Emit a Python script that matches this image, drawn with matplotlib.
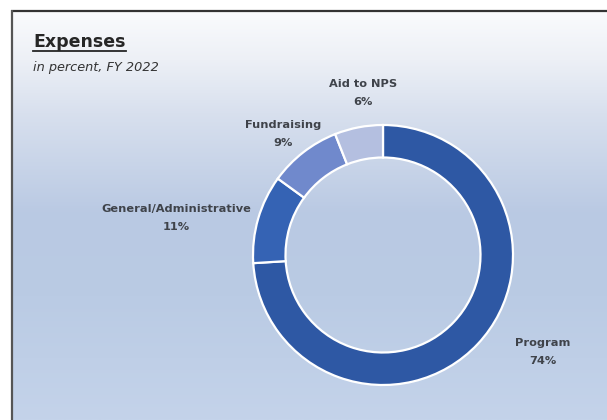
import numpy as np
import matplotlib as mpl
mpl.use('Agg')
import matplotlib.pyplot as plt
from matplotlib.colors import LinearSegmentedColormap
from matplotlib.lines import Line2D

# data
categories = ['Program', 'General/Administrative', 'Fundraising', 'Aid to NPS']
shares = [74, 11, 9, 6]
title = 'Expenses'
subtitle = 'in percent, FY 2022'

# layout for the labels (distance from centre in radii, turn from wedge middle in deg)
label_dist = [1.44, 1.615, 1.21, 1.255]
label_turn = [12, 6, 1.8, -3.8]

colors = ['#2e58a4', '#3563b4', '#7089cc', '#b4bfe0']
textcol = '#3f434a'

W, H = 607, 420
fig = plt.figure(figsize=(W / 100, H / 100), dpi=100)

# gradient background panel
bg = fig.add_axes([11 / W, 0, 1 - 11 / W, (H - 10) / H])
bg.set_axis_off()
grad = LinearSegmentedColormap.from_list(
    'bg', [(0, '#fafbfd'), (0.12, '#edf0f6'), (0.25, '#d8e0ee'),
           (0.5, '#b9c9e3'), (0.7, '#bacbe4'), (1, '#c4d3ea')])
bg.imshow(np.linspace(0, 1, 256).reshape(-1, 1), aspect='auto', cmap=grad,
          extent=[0, 1, 0, 1])
bg.set_xlim(0, 1)
bg.set_ylim(0, 1)

# frame line (top and left only, the rest is off the picture)
fig.add_artist(Line2D([11 / W, 1], [(H - 10.5) / H, (H - 10.5) / H],
                      color='#333333', lw=1.6, solid_capstyle='butt'))
fig.add_artist(Line2D([11.5 / W, 11.5 / W], [0, (H - 10) / H],
                      color='#555555', lw=1.6, solid_capstyle='butt'))

# donut
cx, cy, R = 383, H - 255, 130
ax = fig.add_axes([(cx - R) / W, (cy - R) / H, 2 * R / W, 2 * R / H])
wedges, _ = ax.pie(shares, colors=colors, startangle=90, counterclock=False,
                   radius=1, wedgeprops=dict(width=0.25, edgecolor='white',
                                              linewidth=1.6))
ax.set_xlim(-1, 1)
ax.set_ylim(-1, 1)
ax.set_aspect('equal')
ax.set_axis_off()

for w, name, val, d, turn in zip(wedges, categories, shares, label_dist, label_turn):
    mid = np.deg2rad((w.theta1 + w.theta2) / 2 + turn)
    ax.text(d * np.cos(mid), d * np.sin(mid), f'{name}\n{val}%',
            ha='center', va='center', fontsize=8.2, fontweight='bold',
            color=textcol, linespacing=1.95, clip_on=False)

# title with underline
t = fig.text(33 / W, (H - 47) / H, title, fontsize=12.5, fontweight='bold',
             color='#262626', ha='left', va='baseline')
fig.canvas.draw()
bb = t.get_window_extent(fig.canvas.get_renderer())
uy = (H - 51) / H
fig.add_artist(Line2D([bb.x0 / W, bb.x1 / W], [uy, uy], color='#262626', lw=1.3))

fig.text(33 / W, (H - 71) / H, subtitle, fontsize=9.3, style='italic',
         color='#333333', ha='left', va='baseline')

fig.savefig('out.png', dpi=100)
